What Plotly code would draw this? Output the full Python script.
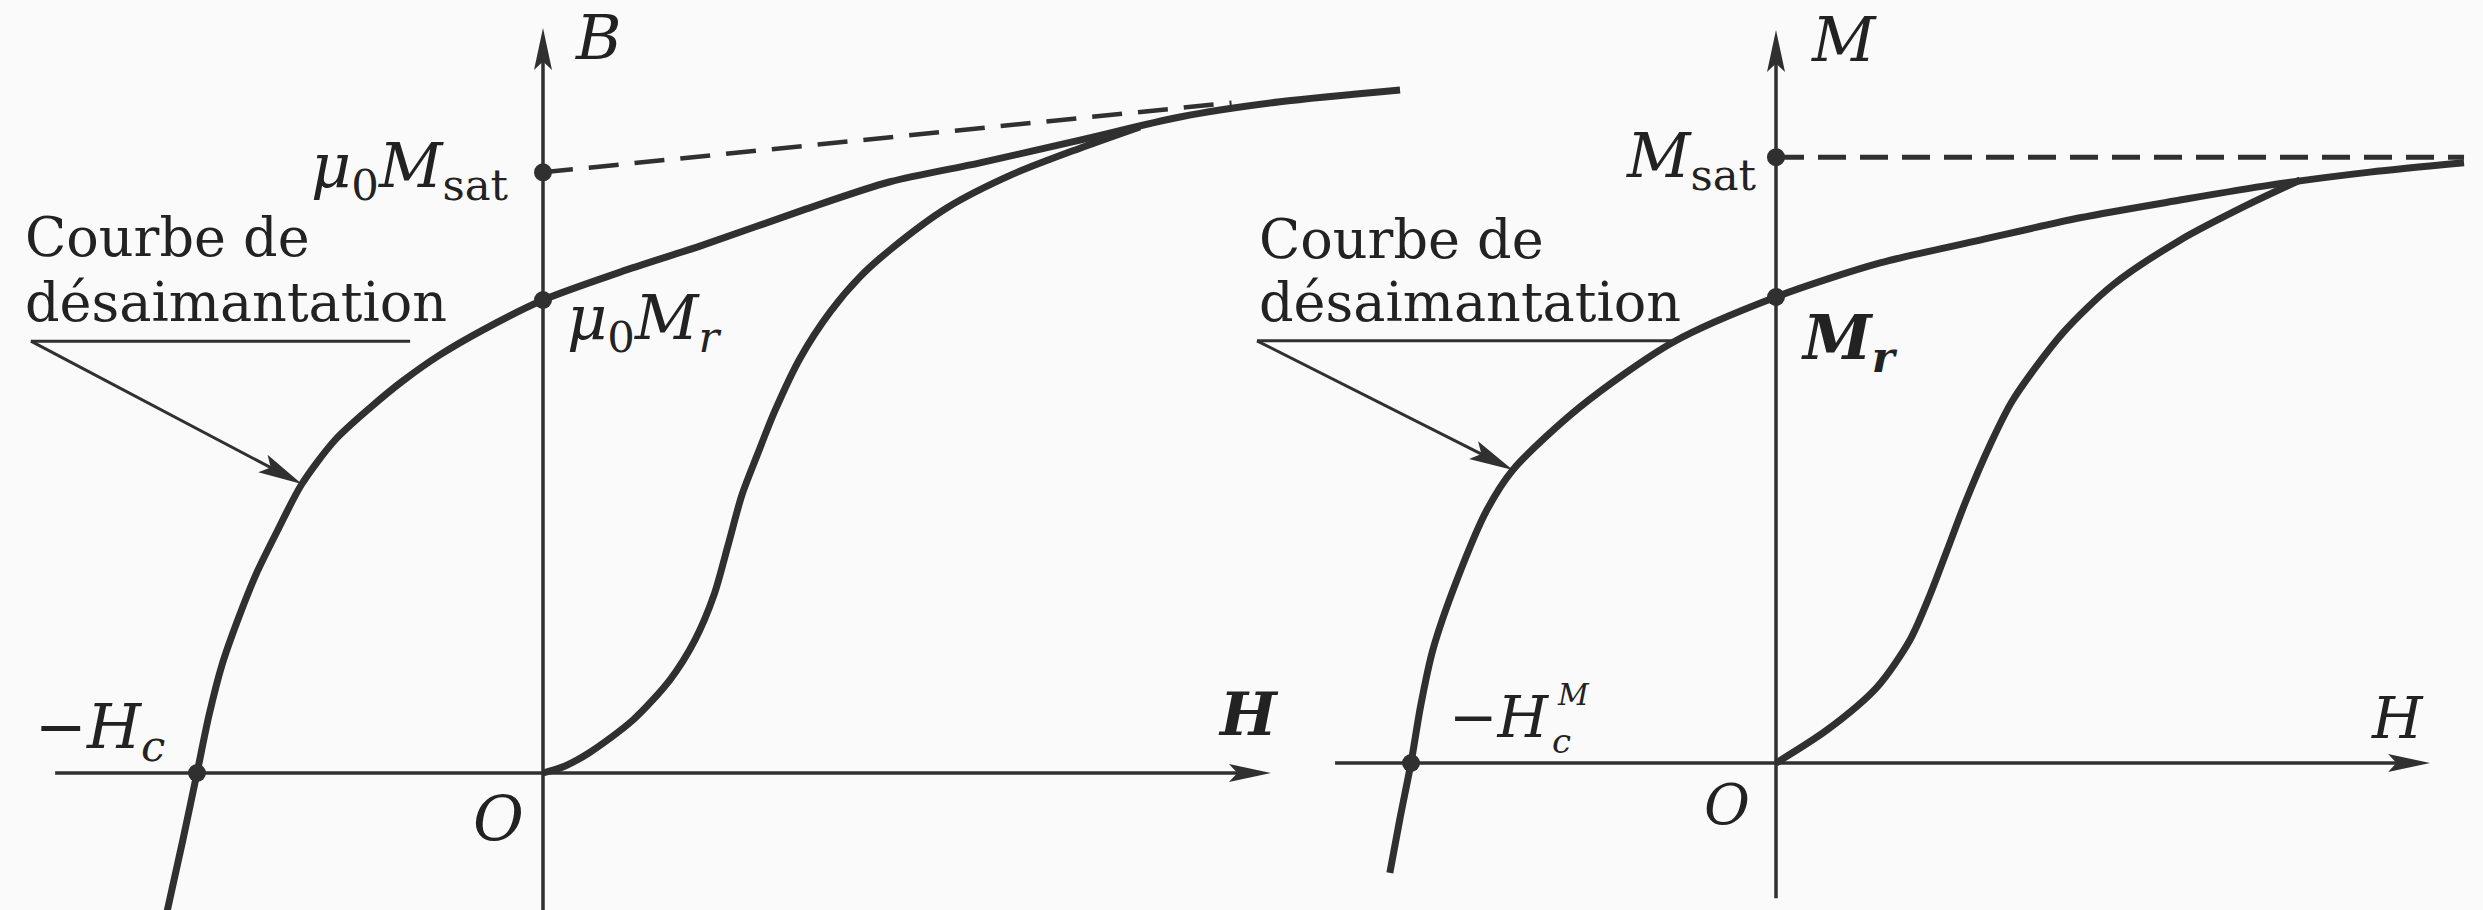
import numpy as np
import plotly.graph_objects as go

FIG_W, FIG_H = 2483, 910
INK = "#303030"
TEXT_INK = "#222222"
BG = "#fafafa"
SERIF = "DejaVu Serif"

# ---------------- Left panel: B(H)  (H in units of Hc, B in units of mu0*Mr)
b_demag_H = [-1.095, -1.041, -1.0, -0.965, -0.928, -0.882, -0.830, -0.769, -0.697,
             -0.601, -0.500, -0.405, -0.298, -0.173, 0.0, 0.223, 0.462, 0.751,
             1.003, 1.263, 1.552, 1.841, 2.130, 2.477]
b_demag_B = [-0.321, -0.142, 0.0, 0.123, 0.228, 0.324, 0.419, 0.510, 0.611,
             0.704, 0.772, 0.829, 0.884, 0.937, 1.0, 1.059, 1.116, 1.190,
             1.250, 1.290, 1.338, 1.387, 1.419, 1.444]
b_first_H = [0.0, 0.064, 0.136, 0.260, 0.367, 0.439, 0.494, 0.535, 0.575, 0.619,
             0.671, 0.743, 0.830, 0.916, 1.003, 1.168, 1.358, 1.552, 1.725]
b_first_B = [0.0, 0.015, 0.044, 0.112, 0.197, 0.281, 0.376, 0.482, 0.588, 0.672,
             0.767, 0.877, 0.975, 1.049, 1.106, 1.195, 1.266, 1.321, 1.366]
b_asym_H = [0.0, 1.99]
b_asym_B = [1.27, 1.417]
b_mark_H = [0.0, 0.0, -1.0]
b_mark_B = [1.27, 1.0, 0.0]

# ---------------- Right panel: M(H)  (H in units of Hc^M, M in units of Mr)
m_demag_H = [-1.058, -1.030, -1.0, -0.973, -0.940, -0.874, -0.792, -0.721, -0.537,
             -0.282, 0.0, 0.285, 0.559, 0.833, 1.107, 1.353, 1.627, 1.885]
m_demag_M = [-0.236, -0.118, 0.0, 0.125, 0.243, 0.393, 0.543, 0.629, 0.764,
             0.903, 1.0, 1.073, 1.122, 1.170, 1.208, 1.240, 1.268, 1.288]
m_first_H = [0.0, 0.140, 0.277, 0.367, 0.422, 0.469, 0.518, 0.586, 0.649, 0.786,
             0.923, 1.107, 1.290, 1.436]
m_first_M = [0.0, 0.071, 0.163, 0.264, 0.361, 0.457, 0.558, 0.682, 0.779, 0.923,
             1.026, 1.122, 1.197, 1.251]
m_sat_H = [0.0, 1.885]
m_sat_M = [1.30, 1.30]
m_mark_H = [0.0, 0.0, -1.0]
m_mark_M = [1.30, 1.0, 0.0]

# ---------------- panel geometry (pixels): horizontal span, origin, pixels per unit
LEFT = dict(px0=0, px1=1450, ox=543, oy=773, ux=346, uy=473, xref="x", yref="y")
RIGHT = dict(px0=1250, px1=2483, ox=1776, oy=763, ux=365, uy=466, xref="x2", yref="y2")


def axis_setup(p):
    xr = [(p["px0"] - p["ox"]) / p["ux"], (p["px1"] - p["ox"]) / p["ux"]]
    yr = [(p["oy"] - FIG_H) / p["uy"], p["oy"] / p["uy"]]
    dom = [p["px0"] / FIG_W, p["px1"] / FIG_W]
    return xr, yr, dom


def seg(p, x0, y0, x1, y1, width=3.5):
    return dict(type="line", xref=p["xref"], yref=p["yref"], x0=x0, y0=y0,
                x1=x1, y1=y1, line=dict(color=INK, width=width), layer="above")


def head(p, tail, tip, length=42, half=9):
    """Filled arrow head, sized in pixels, anchored at the tip in data units."""
    d = np.array([(tip[0] - tail[0]) * p["ux"], (tip[1] - tail[1]) * p["uy"]])
    u = d / np.linalg.norm(d)
    n = np.array([-u[1], u[0]])
    base = -length * u
    a = base + half * n
    b = base - half * n
    notch = -0.8 * length * u
    path = (f"M 0 0 L {a[0]:.2f} {a[1]:.2f} L {notch[0]:.2f} {notch[1]:.2f} "
            f"L {b[0]:.2f} {b[1]:.2f} Z")
    return dict(type="path", xref=p["xref"], yref=p["yref"], xsizemode="pixel",
                ysizemode="pixel", xanchor=tip[0], yanchor=tip[1], path=path,
                fillcolor=INK, line=dict(width=0), layer="above")


def arrow(p, tail, tip, width=3.5, length=42, half=9):
    # the shaft stops inside the head
    d = np.array([(tip[0] - tail[0]) * p["ux"], (tip[1] - tail[1]) * p["uy"]])
    u = d / np.linalg.norm(d)
    end = (tip[0] - 14 * u[0] / p["ux"], tip[1] - 14 * u[1] / p["uy"])
    return [seg(p, tail[0], tail[1], end[0], end[1], width=width),
            head(p, tail, tip, length, half)]


def label(text, x, baseline, size, xanchor="left"):
    top = baseline - 0.928 * size
    return dict(text=text, x=x / FIG_W, y=1 - top / FIG_H, xref="paper", yref="paper",
                xanchor=xanchor, yanchor="top", showarrow=False, borderpad=0,
                font=dict(family=SERIF, size=size, color=TEXT_INK))


fig = go.Figure()

curve = dict(color=INK, width=7, shape="spline", smoothing=0.8)
for p, xs, ys in [(LEFT, b_demag_H, b_demag_B), (LEFT, b_first_H, b_first_B),
                  (RIGHT, m_demag_H, m_demag_M), (RIGHT, m_first_H, m_first_M)]:
    fig.add_trace(go.Scatter(x=xs, y=ys, mode="lines", line=curve,
                             xaxis=p["xref"], yaxis=p["yref"], hoverinfo="skip"))

fig.add_trace(go.Scatter(x=b_asym_H, y=b_asym_B, mode="lines",
                         line=dict(color=INK, width=4.5, dash="30px,16px"),
                         xaxis="x", yaxis="y", hoverinfo="skip"))
fig.add_trace(go.Scatter(x=m_sat_H, y=m_sat_M, mode="lines",
                         line=dict(color=INK, width=5, dash="28px,14px"),
                         xaxis="x2", yaxis="y2", hoverinfo="skip"))

for p, xs, ys in [(LEFT, b_mark_H, b_mark_B), (RIGHT, m_mark_H, m_mark_M)]:
    fig.add_trace(go.Scatter(x=xs, y=ys, mode="markers", cliponaxis=False,
                             marker=dict(color=INK, size=18),
                             xaxis=p["xref"], yaxis=p["yref"], hoverinfo="skip"))

shapes = []
# left axes
shapes += arrow(LEFT, (-1.41, 0.0), (2.104, 0.0))
shapes += arrow(LEFT, (0.0, -0.30), (0.0, 1.575))
# left pointer to the demagnetisation curve
shapes.append(seg(LEFT, -1.48, 0.913, -0.384, 0.913, width=3))
shapes += arrow(LEFT, (-1.48, 0.913), (-0.697, 0.611), width=3, length=44, half=10)
# right axes
shapes += arrow(RIGHT, (-1.208, 0.0), (1.792, 0.0))
shapes += arrow(RIGHT, (0.0, -0.29), (0.0, 1.573))
# right pointer
shapes.append(seg(RIGHT, -1.422, 0.906, -0.282, 0.906, width=3))
shapes += arrow(RIGHT, (-1.422, 0.906), (-0.721, 0.629), width=3, length=44, half=10)

annotations = [
    # left panel
    label("<i>B</i>", 574, 58, 62),
    label("<i>μ</i><sub>0</sub><i>M</i><sub>sat</sub>", 510, 186, 62, xanchor="right"),
    label("<i>μ</i><sub>0</sub><i>M</i><sub><i>r</i></sub>", 566, 338, 62),
    label("Courbe de", 24, 255, 54),
    label("désaimantation", 24, 320, 54),
    label("−<i>H</i><sub><i>c</i></sub>", 34, 747, 62),
    label("<i>O</i>", 472, 839, 62),
    label("<b><i>H</i></b>", 1217, 734, 60),
    # right panel
    label("<i>M</i>", 1810, 60, 62),
    label("<i>M</i><sub>sat</sub>", 1758, 176, 62, xanchor="right"),
    label("<b><i>M</i><sub><i>r</i></sub></b>", 1800, 358, 62),
    label("Courbe de", 1258, 257, 54),
    label("désaimantation", 1258, 320, 54),
    label("−<i>H</i>", 1448, 736, 58),
    label("<i>c</i>", 1551, 752, 34),
    label("<i>M</i>", 1556, 704, 30),
    label("<i>O</i>", 1703, 823, 56),
    label("<i>H</i>", 2370, 737, 58),
]

lx, ly, ldom = axis_setup(LEFT)
rx, ry, rdom = axis_setup(RIGHT)
hidden = dict(visible=False, showgrid=False, zeroline=False, fixedrange=True)

fig.update_layout(
    width=FIG_W, height=FIG_H,
    margin=dict(l=0, r=0, t=0, b=0, pad=0),
    paper_bgcolor=BG, plot_bgcolor="rgba(0,0,0,0)",
    showlegend=False,
    xaxis=dict(domain=ldom, range=lx, anchor="y", **hidden),
    yaxis=dict(domain=[0, 1], range=ly, anchor="x", **hidden),
    xaxis2=dict(domain=rdom, range=rx, anchor="y2", **hidden),
    yaxis2=dict(domain=[0, 1], range=ry, anchor="x2", **hidden),
    shapes=shapes,
    annotations=annotations,
)

fig.write_html("out.html")
